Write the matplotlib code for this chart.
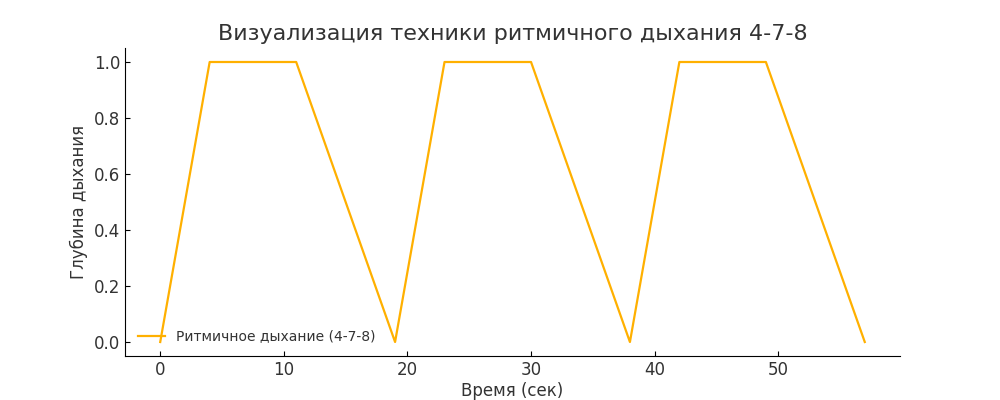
import matplotlib
matplotlib.use('Agg')
import matplotlib.pyplot as plt

# 4-7-8 breathing cycle: inhale 4s, hold 7s, exhale 8s
time_sec = [0, 4, 11, 19, 23, 30, 38, 42, 49, 57]
depth = [0, 1, 1, 0, 1, 1, 0, 1, 1, 0]

plt.rcParams['font.family'] = 'DejaVu Sans'
text_color = '#333333'

fig, ax = plt.subplots(figsize=(10, 4), dpi=100)
ax.plot(time_sec, depth, color='#FFB000', lw=1.6, label='Ритмичное дыхание (4-7-8)')

ax.set_title('Визуализация техники ритмичного дыхания 4-7-8', fontsize=16, color=text_color)
ax.set_xlabel('Время (сек)', fontsize=12, color=text_color, labelpad=2)
ax.set_ylabel('Глубина дыхания', fontsize=12, color=text_color)

ax.spines['top'].set_visible(False)
ax.spines['right'].set_visible(False)
ax.tick_params(direction='in', labelsize=12, labelcolor=text_color)
ax.legend(loc='lower left', frameon=False, fontsize=10, labelcolor=text_color)

plt.savefig('out.png')
